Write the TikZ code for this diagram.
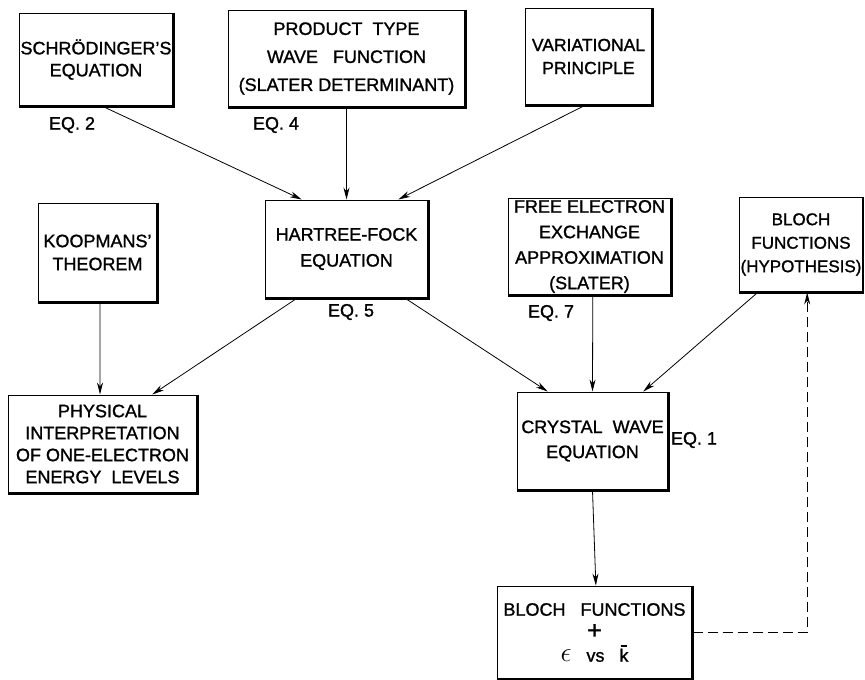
\documentclass[tikz,border=0pt]{standalone}
\usepackage{fontspec}
\setmainfont{Liberation Sans}[BoldFont={Liberation Sans},BoldFeatures={FakeBold=1.2}]
\usetikzlibrary{calc,arrows.meta}
\newcommand{\kbar}{\makebox[0pt][l]{\hspace{1.2pt}\raisebox{15pt}{\rule{6.5pt}{1.6pt}}}k}
\begin{document}
\begin{tikzpicture}[x=1pt,y=-1pt,
  box/.style={draw, line width=1pt, rectangle, align=center, inner sep=1pt,
    font=\fontsize{18}{24}\selectfont\bfseries},
  lbl/.style={font=\fontsize{18}{24}\selectfont\bfseries, inner sep=0pt},
  conn/.style={line width=0.8pt, -{Stealth[length=12pt,width=6pt]}},
  shadowedge/.style={line width=2.4pt, line join=miter}]
\useasboundingbox (0,0) rectangle (865,680);

% boxes
\node[box, minimum width=154pt, minimum height=93pt, font=\fontsize{18}{22}\selectfont\bfseries] (sch) at (96,59.5) {SCHRÖDINGER'S\\EQUATION};
\node[box, minimum width=237pt, minimum height=97pt, font=\fontsize{18}{28}\selectfont\bfseries] (prod) at (346.5,58.5) {PRODUCT\ \ TYPE\\WAVE\ \ \ FUNCTION\\(SLATER DETERMINANT)};
\node[box, minimum width=127pt, minimum height=97pt, font=\fontsize{17.5}{23}\selectfont\bfseries] (var) at (588.5,56.5) {VARIATIONAL\\PRINCIPLE};
\node[box, minimum width=163pt, minimum height=98pt, font=\fontsize{18}{26}\selectfont\bfseries] (hf) at (346.5,249) {HARTREE-FOCK\\EQUATION};
\node[box, minimum width=119pt, minimum height=99pt, font=\fontsize{18}{23}\selectfont\bfseries] (koop) at (97.5,252.5) {KOOPMANS'\\THEOREM};
\node[box, minimum width=163pt, minimum height=97pt, font=\fontsize{18}{25.5}\selectfont\bfseries] (free) at (589.5,246.5) {FREE ELECTRON\\EXCHANGE\\APPROXIMATION\\(SLATER)};
\node[box, minimum width=122pt, minimum height=95pt, font=\fontsize{17}{23.5}\selectfont\bfseries] (blochh) at (801,244.5) {BLOCH\\FUNCTIONS\\(HYPOTHESIS)};
\node[box, minimum width=189pt, minimum height=98pt, font=\fontsize{18}{22}\selectfont\bfseries] (phys) at (102.5,444) {PHYSICAL\\INTERPRETATION\\OF ONE-ELECTRON\\ENERGY\ \ LEVELS};
\node[box, minimum width=151pt, minimum height=98pt, font=\fontsize{18}{25}\selectfont\bfseries] (cryst) at (592.5,441) {CRYSTAL\ \ WAVE\\EQUATION};
\node[box, minimum width=195pt, minimum height=93pt, font=\fontsize{18}{23}\selectfont\bfseries] (blochf) at (594.5,632.5) {BLOCH\ \ \ FUNCTIONS\\\scalebox{1.4}{+}\\\scalebox{1.6}{$\epsilon$}\ \ \ vs\ \ \ \kbar};

% heavier right and bottom edges
\foreach \n in {sch,prod,var,hf,koop,free,blochh,phys,cryst,blochf}
  \draw[shadowedge] (\n.north east) -- (\n.south east) -- (\n.south west);

% equation labels
\node[lbl] (eq2) at (72,125) {EQ. 2};
\node[lbl] (eq4) at (276,125) {EQ. 4};
\node[lbl] (eq5) at (351,312) {EQ. 5};
\node[lbl] (eq7) at (551,313) {EQ. 7};
\node[lbl] (eq1) at (694,440) {EQ. 1};

% connectors
\draw[conn] ($(sch.south west)!0.545!(sch.south east)$) -- ($(hf.north west)!0.227!(hf.north east)$);
\draw[conn] (prod.south) -- (hf.north);
\draw[conn] ($(var.south west)!0.47!(var.south east)$) -- ($(hf.north west)!0.816!(hf.north east)$);
\draw[conn] ($(koop.south west)!0.52!(koop.south east)$) -- ($(phys.north west)!0.487!(phys.north east)$);
\draw[conn] ($(hf.south west)!0.196!(hf.south east)$) -- ($(phys.north west)!0.762!(phys.north east)$);
\draw[conn] ($(hf.south west)!0.86!(hf.south east)$) -- ($(cryst.north west)!0.205!(cryst.north east)$);
\draw[conn] ($(free.south west)!0.52!(free.south east)$) -- ($(cryst.north west)!0.5!(cryst.north east)$);
\draw[conn] ($(blochh.south west)!0.15!(blochh.south east)$) -- ($(cryst.north west)!0.834!(cryst.north east)$);
\draw[conn] (cryst.south) -- ($(blochf.north west)!0.507!(blochf.north east)$);
\draw[conn, dash pattern=on 10pt off 5pt] (blochf.east) -| ($(blochh.south west)!0.55!(blochh.south east)$);
\end{tikzpicture}
\end{document}
